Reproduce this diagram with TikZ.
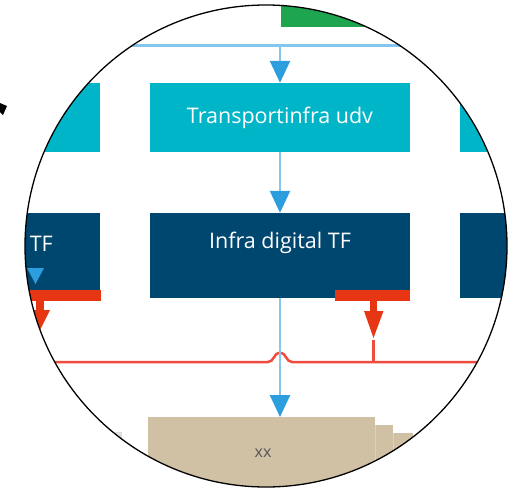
\documentclass[tikz,border=0pt]{standalone}
\usepackage{fontspec}
\setmainfont{Open Sans}
\usetikzlibrary{arrows.meta}
\definecolor{teal1}{HTML}{00B5C8}
\definecolor{navy1}{HTML}{00476F}
\definecolor{red1}{HTML}{E63614}
\definecolor{red2}{HTML}{EF4B3F}
\definecolor{green1}{HTML}{1DA64F}
\definecolor{beige1}{HTML}{D0C1A5}
\definecolor{lblue}{HTML}{85C6EE}
\definecolor{ablue}{HTML}{2C9EDE}
\definecolor{txtgray}{HTML}{555555}
\tikzset{
  tealbox/.style={fill=teal1, draw=none, minimum width=260pt, minimum height=69pt, inner sep=0pt, text=white, font=\fontsize{21.5}{24}\selectfont},
  navybox/.style={fill=navy1, draw=none, minimum width=260pt, minimum height=85pt, inner sep=0pt},
  boxtext/.style={text=white, font=\fontsize{21.5}{24}\selectfont, inner sep=0pt},
  flow/.style={draw=lblue, line width=2.5pt, -{Triangle[length=22pt,width=20pt,color=ablue]}},
  redline/.style={draw=red2, line width=2.5pt},
}
\begin{document}
\begin{tikzpicture}[x=1pt,y=-1pt]
\useasboundingbox (0,0) rectangle (517,490);
\fill[black] (0,103) -- (7,106) -- (3,115) -- (0,112) -- cycle;
\begin{scope}
\clip (266,246) circle (241);
% green box on top
\fill[green1] (281,-10) rectangle (420,27);
% light blue distribution line
\coordinate (lt) at (20,45);
\coordinate (rt) at (520,45);
\coordinate (jt) at (280,45);
\draw[lblue, line width=3pt] (lt) -- (rt);
% teal row
\node[tealbox] (tl) at (-30,117.5) {};
\node[tealbox] (tm) at (280,117.5) {Transportinfra udv};
\node[tealbox] (tr) at (590,117.5) {};
% navy row
\node[navybox] (dl) at (-30,255.5) {};
\node[boxtext, anchor=east] (dlt) at (53,243) {l TF};
\node[navybox] (dm) at (280,255.5) {};
\node[boxtext] (dmt) at (280,243) {Infra digital TF};
\node[navybox] (dr) at (590,255.5) {};
% arrows
\draw[flow] (jt) -- (tm.north);
\draw[flow] (tm.south) -- (dm.north);
% left blue arrowhead inside box
\fill[ablue] (27,268) -- (44,268) -- (35.5,284) -- cycle;
% red bars
\fill[red1] (-10,290) rectangle (101,300.5);
\fill[red1] (335,290) rectangle (410,301);
% left red arrow
\fill[red1] (36,300) rectangle (44,312);
\fill[red1] (30,310) -- (50,310) -- (40,330) -- cycle;
% middle red arrow
\fill[red1] (370,301) rectangle (377,313);
\fill[red1] (364,311) -- (383.5,311) -- (373.5,338) -- cycle;
% red horizontal line with jump
\coordinate (rl) at (20,362);
\coordinate (rr) at (520,362);
\draw[redline] (rl) -- (268,362) .. controls (274,362) and (274,352.5) .. (280,352.5) .. controls (286,352.5) and (286,362) .. (292,362) -- (rr);
\draw[redline] (373.5,340) -- (373.5,362);
% beige stacked boxes
\fill[beige1] (393,433) rectangle (413,500);
\draw[gray!35, line width=1pt] (393,433) -- (393,500);
\fill[beige1] (375,425) rectangle (393,500);
\draw[gray!35, line width=1pt] (375,425) -- (375,500);
\node[fill=beige1, draw=none, minimum width=227pt, minimum height=83pt, inner sep=0pt, anchor=north west] (bx) at (148,417) {};
\node[text=txtgray, font=\fontsize{16}{19}\selectfont] (xx) at (263,453) {xx};
\fill[gray!25] (100,432) rectangle (122,446);
\draw[flow] (dm.south) -- (bx.north -| dm.south);
\end{scope}
\draw[black, line width=1.3pt] (266,246) circle (241);
\end{tikzpicture}
\end{document}
